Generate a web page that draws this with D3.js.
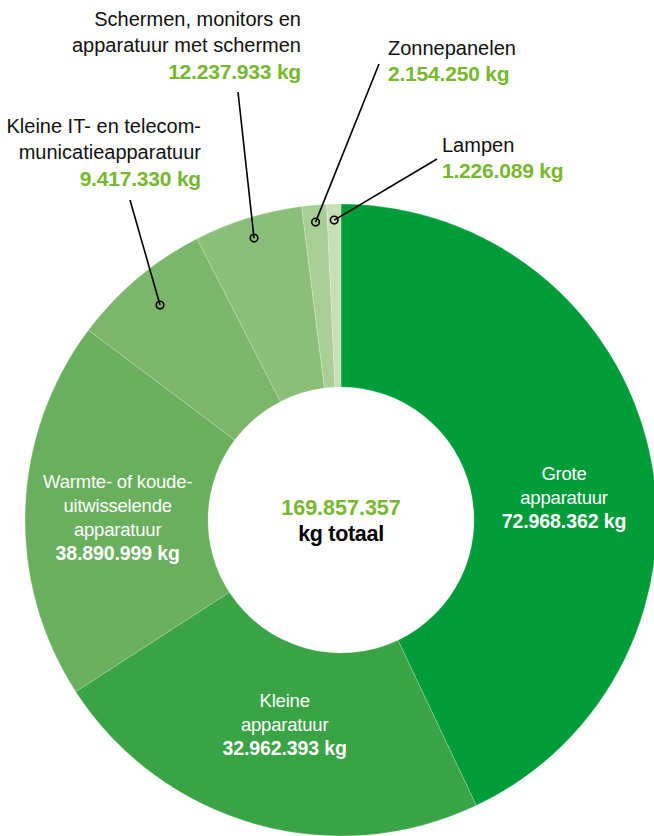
<!DOCTYPE html>
<html>
<head>
<meta charset="utf-8">
<script src="https://cdn.jsdelivr.net/npm/d3@7"></script>
<style>
  body { margin: 0; background: #fff; }
  svg text { font-family: "Liberation Sans", Arial, sans-serif; }
</style>
</head>
<body>
<div id="chart"></div>
<script>
// e-waste per category (kg)
var categories = ["Grote apparatuur", "Kleine apparatuur", "Warmte- of koude-uitwisselende apparatuur",
  "Kleine IT- en telecommunicatieapparatuur", "Schermen, monitors en apparatuur met schermen",
  "Zonnepanelen", "Lampen"];
var labelLines = [["Grote", "apparatuur"], ["Kleine", "apparatuur"],
  ["Warmte- of koude-", "uitwisselende", "apparatuur"],
  ["Kleine IT- en telecom-", "municatieapparatuur"],
  ["Schermen, monitors en", "apparatuur met schermen"],
  ["Zonnepanelen"], ["Lampen"]];
var values = [72968362, 32962393, 38890999, 9417330, 12237933, 2154250, 1226089];
var total = 169857357;
// colour per slice, going clockwise from the top
var colors = ["#009c3a", "#39a345", "#69af5d", "#7cb66a", "#8bbf79", "#a9cf97", "#c8deb5"];

var width = 654, height = 836;
var cx = 341, cy = 520, outerR = 316, innerR = 133;
var green = "#76b72e";

// label layout (inside labels nudged from centroid, outside ones with a leader)
var inside = [0, 1, 2];
var nudge = [[4, 27], [5, -11], [1, 5]];
var outside = {
  3: { x: 201, y: 133, anchor: "end", lx: 130, ly: 200, r: 281 },
  4: { x: 301, y: 26, anchor: "end", lx: 238, ly: 92, r: 295 },
  5: { x: 388, y: 55, anchor: "start", lx: 379, ly: 64, r: 299 },
  6: { x: 442, y: 152, anchor: "start", lx: 437, ly: 159, r: 300 }
};

var locale = d3.formatLocale({ decimal: ",", thousands: ".", grouping: [3], currency: ["", ""] });
var fmt = locale.format(",");

var svg = d3.select("#chart").append("svg")
  .attr("width", width).attr("height", height);
var g = svg.append("g").attr("transform", "translate(" + cx + "," + cy + ")");

var pie = d3.pie().value(function(d) { return d; });
var arcs = pie(values);
var arc = d3.arc().innerRadius(innerR).outerRadius(outerR);

g.selectAll("path.slice").data(arcs).enter()
  .append("path").attr("class", "slice")
  .attr("d", arc)
  .attr("fill", function(d) { return colors[d.index]; })
  .attr("stroke", "rgba(255,255,255,0.35)")
  .attr("stroke-width", 0.6);

// slots in angular order
var slots = arcs.slice().sort(function(a, b) { return a.index - b.index; });

inside.forEach(function(i, k) {
  var c = arc.centroid(slots[i]);
  var ax = c[0] + nudge[k][0], ay = c[1] + nudge[k][1];
  var lines = labelLines[i].concat([fmt(values[i]) + " kg"]);
  var n = lines.length, lh = 24;
  var t = g.append("text").attr("text-anchor", "middle").attr("fill", "#fff");
  lines.forEach(function(s, j) {
    var last = j === n - 1;
    t.append("tspan").attr("x", ax)
      .attr("y", ay + (j - (n - 1) / 2) * lh + 6.5)
      .style("font-weight", last ? "bold" : "normal")
      .style("font-size", last ? "19.5px" : "18.5px")
      .style("letter-spacing", last ? "-0.1px" : "-0.2px")
      .text(s);
  });
});

Object.keys(outside).forEach(function(key) {
  var i = +key, o = outside[key];
  var s = slots[i];
  var mid = (s.startAngle + s.endAngle) / 2;
  var px = cx + o.r * Math.sin(mid), py = cy - o.r * Math.cos(mid);
  svg.append("line")
    .attr("x1", o.lx).attr("y1", o.ly).attr("x2", px).attr("y2", py)
    .attr("stroke", "#000").attr("stroke-width", 1.6);
  svg.append("circle").attr("cx", px).attr("cy", py).attr("r", 3.8)
    .attr("fill", "none").attr("stroke", "#000").attr("stroke-width", 1.6);
  var lines = labelLines[i].concat([fmt(values[i]) + " kg"]);
  var t = svg.append("text").attr("text-anchor", o.anchor);
  lines.forEach(function(str, j) {
    var last = j === lines.length - 1;
    t.append("tspan").attr("x", o.x).attr("y", o.y + j * 26.3)
      .attr("fill", last ? green : "#111")
      .style("font-weight", last ? "bold" : "normal")
      .style("font-size", last ? "21px" : "20px")
      .style("letter-spacing", last ? "-0.2px" : "0px")
      .text(str);
  });
});

// total in the hole
g.append("text").attr("text-anchor", "middle").attr("y", -5)
  .attr("fill", green).style("font-weight", "bold").style("font-size", "21.5px")
  .text(fmt(total));
g.append("text").attr("text-anchor", "middle").attr("y", 21)
  .attr("fill", "#000").style("font-weight", "bold").style("font-size", "21.5px")
  .style("letter-spacing", "-0.3px")
  .text("kg totaal");
</script>
</body>
</html>
